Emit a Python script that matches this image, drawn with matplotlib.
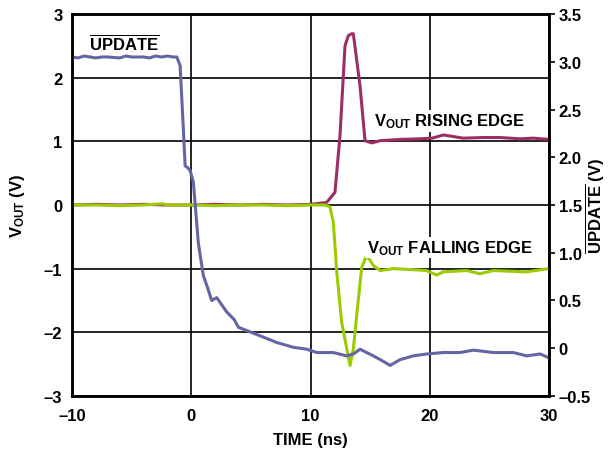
import matplotlib.pyplot as plt
from matplotlib.ticker import FixedLocator, FuncFormatter

plt.rcParams['font.family'] = 'Liberation Sans'
plt.rcParams['font.weight'] = 'bold'
plt.rcParams['mathtext.fontset'] = 'custom'
plt.rcParams['mathtext.rm'] = 'Liberation Sans:bold'
plt.rcParams['mathtext.bf'] = 'Liberation Sans:bold'
plt.rcParams['mathtext.it'] = 'Liberation Sans:bold'

# UPDATE (right axis, V)
upd_t = [-10, -9.5, -9, -8, -7.5, -7, -6, -5.5, -5, -4, -3.5, -3, -2.5, -2, -1.5,
         -1.22, -0.94, -0.67, -0.52, -0.3, -0.1, 0.17, 0.59, 1.01, 1.4, 1.71,
         2.13, 2.97, 3.6, 3.95, 4.65, 5.77, 7.17, 8.56, 9.68, 10.52, 11.91,
         13.04, 13.6, 14.15, 15.27, 16.0, 16.67, 17.5, 18.62, 19.74, 21.14,
         22.54, 23.65, 25.33, 27.0, 28.13, 29.25, 30]
upd_v = [3.05, 3.04, 3.06, 3.04, 3.05, 3.05, 3.04, 3.06, 3.05, 3.05, 3.04, 3.06,
         3.05, 3.06, 3.05, 3.05, 2.96, 2.30, 1.91, 1.89, 1.86, 1.74, 1.10, 0.76,
         0.62, 0.50, 0.53, 0.38, 0.30, 0.22, 0.185, 0.13, 0.06, 0.01, -0.01,
         -0.045, -0.045, -0.08, -0.06, -0.01, -0.08, -0.13, -0.18, -0.12, -0.08,
         -0.06, -0.045, -0.045, -0.02, -0.045, -0.045, -0.08, -0.06, -0.1]

# VOUT rising edge (left axis, V)
rise_t = [-10, -8, -6, -4, -2, 0, 2, 4, 6, 8, 10, 11.35, 12.05, 12.47, 12.89,
          13.17, 13.45, 13.59, 14.15, 14.57, 15.13, 15.83, 17.5, 19.18, 20.2,
          21.14, 22.81, 24.5, 25.89, 27.57, 28.68, 30]
rise_v = [0.0, 0.01, 0.0, 0.01, 0.0, 0.0, 0.01, 0.0, 0.01, 0.0, 0.01, 0.04, 0.2,
          1.09, 2.5, 2.66, 2.69, 2.69, 1.87, 1.01, 0.975, 1.01, 1.03, 1.04, 1.05,
          1.1, 1.05, 1.06, 1.06, 1.04, 1.05, 1.03]

# VOUT falling edge (left axis, V)
fall_t = [-10, -8, -6, -4, -2.4, -2, 0, 2, 4, 6, 8, 10, 11.22, 11.63, 11.91,
          12.2, 12.61, 13.31, 13.59, 13.87, 14.29, 14.71, 15.27, 15.83, 16.94,
          19.0, 19.74, 20.58, 21.14, 23.1, 24.21, 25.33, 28.13, 29.94, 30]
fall_v = [0.0, 0.0, -0.01, 0.0, 0.02, 0.0, 0.0, -0.01, 0.0, 0.0, -0.01, 0.0,
          0.0, -0.03, -0.27, -1.05, -1.84, -2.52, -2.26, -1.74, -0.98, -0.79,
          -0.95, -1.03, -1.0, -1.02, -1.03, -1.1, -1.05, -1.03, -1.08, -1.03,
          -1.05, -1.0, -1.0]

BLUE = '#6465a3'
MAROON = '#9c2d64'
GREEN = '#9ccc00'
FS = 12


def dash_fmt(v, pos, dec=0):
    s = f'{v:.{dec}f}' if v != 0 else '0'
    return s.replace('-', '\u2013')


fig = plt.figure(figsize=(6.11, 4.52), dpi=100)
ax = fig.add_axes([0.118, 0.1217, 0.7805, 0.8451])
ax2 = ax.twinx()

ax.plot(rise_t, rise_v, color=MAROON, lw=2.2, zorder=3)
ax.plot(fall_t, fall_v, color=GREEN, lw=2.2, zorder=4)
ax2.plot(upd_t, upd_v, color=BLUE, lw=2.2)

ax.set_xlim(-10, 30)
ax.set_ylim(-3, 3)
ax2.set_ylim(-0.5, 3.5)

ax.xaxis.set_major_locator(FixedLocator([-10, 0, 10, 20, 30]))
ax.yaxis.set_major_locator(FixedLocator([-3, -2, -1, 0, 1, 2, 3]))
ax2.yaxis.set_major_locator(FixedLocator([-0.5, 0, 0.5, 1, 1.5, 2, 2.5, 3, 3.5]))
ax.xaxis.set_major_formatter(FuncFormatter(dash_fmt))
ax.yaxis.set_major_formatter(FuncFormatter(dash_fmt))
ax2.yaxis.set_major_formatter(FuncFormatter(lambda v, p: dash_fmt(v, p, 1)))

ax.grid(True, color='black', lw=1.2)
ax.set_axisbelow(True)
ax.tick_params(axis='y', length=0, pad=7, labelsize=FS)
ax.tick_params(axis='x', length=0, pad=9, labelsize=FS)
ax2.tick_params(axis='y', length=4, width=1.2, direction='out', pad=3,
                labelsize=FS)
for sp in list(ax.spines.values()) + list(ax2.spines.values()):
    sp.set_linewidth(1.8)

ax.set_xlabel('TIME (ns)', fontsize=FS, fontweight='bold', labelpad=6)
ax.set_ylabel(r'$\mathregular{V_{OUT}}$ (V)', fontsize=FS, fontweight='bold',
              labelpad=12)
# right axis label placed by hand so it stays inside the canvas
fig.text(0.975, 0.544, r'$\overline{\mathregular{UPDATE}}$ (V)', fontsize=FS,
         fontweight='bold', rotation=90, ha='center', va='center')

box = dict(facecolor='white', edgecolor='none', pad=1)
ax.text(-8.6, 2.56, r'$\overline{\mathregular{UPDATE}}$', fontsize=FS,
        fontweight='bold', va='center', ha='left', zorder=5)
ax.text(15.3, 1.32, r'$\mathregular{V_{OUT}}$ RISING EDGE', fontsize=FS,
        fontweight='bold', va='center', ha='left', bbox=box, zorder=5)
ax.text(14.7, -0.67, r'$\mathregular{V_{OUT}}$ FALLING EDGE', fontsize=FS,
        fontweight='bold', va='center', ha='left', bbox=box, zorder=5)

fig.savefig('out.png', dpi=100)
